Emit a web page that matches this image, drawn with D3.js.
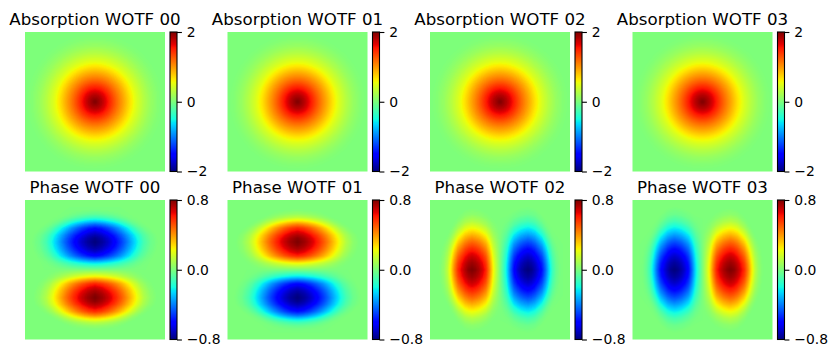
<!DOCTYPE html>
<html><head><meta charset="utf-8">
<script src="https://cdn.jsdelivr.net/npm/d3@7"></script>
<style>
body{margin:0;background:#fff}
svg{display:block}
text{font-family:"DejaVu Sans",sans-serif;fill:#000}
</style>
</head><body>
<svg id="chart" width="837" height="358"></svg>
<script>
// ---------------- data ----------------
const absTitles   = ["Absorption WOTF 00","Absorption WOTF 01","Absorption WOTF 02","Absorption WOTF 03"];
const phaseTitles = ["Phase WOTF 00","Phase WOTF 01","Phase WOTF 02","Phase WOTF 03"];
const absLimits   = [-2, 2];
const phaseLimits = [-0.8, 0.8];
const absTicks    = [-2, 0, 2];
const absTickLabels   = ["\u22122","0","2"];
const phaseTicks  = [-0.8, 0, 0.8];
const phaseTickLabels = ["\u22120.8","0.0","0.8"];
// absorption WOTF radial profile (radius as fraction of half field)
const absRadius = [0, 0.1, 0.2, 0.3, 0.4, 0.5, 0.6, 0.7, 0.8, 0.9, 1.0];
const absValue  = [2.0, 1.8, 1.52, 1.22, 0.95, 0.68, 0.45, 0.27, 0.13, 0.04, 0];
// phase WOTF lobe profile along dipole axis (distance from centre)
const phaseAxisPos   = [0, 0.05, 0.1, 0.15, 0.2, 0.25, 0.3, 0.35, 0.4, 0.45, 0.5, 0.55, 0.6, 0.65, 0.7, 0.75, 0.8, 0.85, 0.9];
const phaseAxisValue = [0, 0.12, 0.25, 0.44, 0.6, 0.68, 0.74, 0.78, 0.8, 0.78, 0.73, 0.66, 0.58, 0.44, 0.27, 0.13, 0.05, 0.01, 0];
// relative fall-off across the dipole axis
const phasePerpPos    = [0, 0.1, 0.2, 0.3, 0.4, 0.5, 0.6, 0.7, 0.8, 0.9];
const phasePerpFactor = [1, 0.95, 0.86, 0.74, 0.6, 0.44, 0.28, 0.13, 0.04, 0];
// lobe half-width (relative) at each distance along the dipole axis
const phaseWidthPos   = [0, 0.1, 0.2, 0.3, 0.4, 0.5, 0.6, 0.7, 0.8, 0.9];
const phaseWidthScale = [0.8, 0.86, 0.93, 0.98, 1.0, 0.97, 0.87, 0.72, 0.55, 0.4];
// direction of the positive lobe (screen coords, y down)
const phaseDirX = [0, 0, -1, 1];
const phaseDirY = [1, -1, 0, 0];

// ---------------- layout ----------------
const colX = [25, 227.5, 430, 632.5];
const rowY = [32, 200];
const imgW = 140, imgH = 139.5, N = 140;
const cbGap = 5, cbW = 7;

const svg = d3.select("#chart");

// jet colormap (matplotlib segment data)
const jr = d3.scaleLinear().domain([0,0.35,0.66,0.89,1]).range([0,0,1,1,0.5]).clamp(true);
const jg = d3.scaleLinear().domain([0,0.125,0.375,0.64,0.91,1]).range([0,0,1,1,0,0]).clamp(true);
const jb = d3.scaleLinear().domain([0,0.11,0.34,0.65,1]).range([0.5,1,1,0,0]).clamp(true);
function jet(t){
  t = Math.max(0, Math.min(1, t));
  const i = Math.min(255, Math.floor(t*256));
  const q = i/255;
  return [Math.round(jr(q)*255), Math.round(jg(q)*255), Math.round(jb(q)*255)];
}

const absProfile   = d3.scaleLinear().domain(absRadius).range(absValue).clamp(true);
const axisProfile  = d3.scaleLinear().domain(phaseAxisPos).range(phaseAxisValue).clamp(true);
const perpProfile  = d3.scaleLinear().domain(phasePerpPos).range(phasePerpFactor).clamp(true);
const widthProfile = d3.scaleLinear().domain(phaseWidthPos).range(phaseWidthScale).clamp(true);
const gridCoord    = d3.scaleLinear().domain([0, N]).range([-1, 1]);

function heatImage(fn, lim){
  const cv = document.createElement("canvas");
  cv.width = N; cv.height = N;
  const ctx = cv.getContext("2d");
  const img = ctx.createImageData(N, N);
  const norm = d3.scaleLinear().domain(lim).range([0,1]);
  for (let j=0;j<N;j++){
    const y = gridCoord(j+0.5);
    for (let i=0;i<N;i++){
      const x = gridCoord(i+0.5);
      const c = jet(norm(fn(x,y)));
      const k = (j*N+i)*4;
      img.data[k]=c[0]; img.data[k+1]=c[1]; img.data[k+2]=c[2]; img.data[k+3]=255;
    }
  }
  ctx.putImageData(img,0,0);
  return cv.toDataURL();
}

function cbarImage(){
  const cv = document.createElement("canvas");
  cv.width = 1; cv.height = 256;
  const ctx = cv.getContext("2d");
  const img = ctx.createImageData(1,256);
  for (let j=0;j<256;j++){
    const c = jet(1 - (j+0.5)/256);
    img.data[j*4]=c[0]; img.data[j*4+1]=c[1]; img.data[j*4+2]=c[2]; img.data[j*4+3]=255;
  }
  ctx.putImageData(img,0,0);
  return cv.toDataURL();
}
const cbURL = cbarImage();

function panel(x0, y0, title, url, lim, ticks, labels){
  const g = svg.append("g");
  g.append("image").attr("x",x0).attr("y",y0).attr("width",imgW).attr("height",imgH)
    .attr("preserveAspectRatio","none").attr("href",url);
  g.append("text").attr("x",x0+imgW/2).attr("y",y0-7).attr("text-anchor","middle")
    .style("font-size","16.67px").text(title);
  const cx = x0 + imgW + cbGap;
  g.append("image").attr("x",cx).attr("y",y0).attr("width",cbW).attr("height",imgH)
    .attr("preserveAspectRatio","none").attr("href",cbURL);
  g.append("rect").attr("x",cx).attr("y",y0).attr("width",cbW).attr("height",imgH)
    .attr("fill","none").attr("stroke","#000").attr("stroke-width",1.1);
  const sc = d3.scaleLinear().domain(lim).range([y0+imgH, y0]);
  const ax = d3.axisRight(sc).tickValues(ticks).tickFormat((d,i)=>labels[i])
    .tickSize(4.9).tickPadding(4.9).tickSizeOuter(0);
  const ag = g.append("g").attr("transform",`translate(${cx+cbW},0)`).call(ax);
  ag.select(".domain").remove();
  ag.selectAll(".tick line").attr("stroke","#000").attr("stroke-width",1.1);
  ag.selectAll(".tick text").attr("fill","#000").style("font-size","13.9px")
    .style("font-family","'DejaVu Sans',sans-serif");
}

for (let p=0;p<4;p++){
  const absURL = heatImage((x,y)=>absProfile(Math.hypot(x,y)), absLimits);
  panel(colX[p], rowY[0], absTitles[p], absURL, absLimits, absTicks, absTickLabels);
  const dx = phaseDirX[p], dy = phaseDirY[p];
  const phURL = heatImage((x,y)=>{
    const d = x*dx + y*dy;
    const q = -x*dy + y*dx;
    const ad = Math.abs(d);
    return Math.sign(d)*axisProfile(ad)*perpProfile(Math.abs(q)/widthProfile(ad));
  }, phaseLimits);
  panel(colX[p], rowY[1], phaseTitles[p], phURL, phaseLimits, phaseTicks, phaseTickLabels);
}
</script>
</body></html>
